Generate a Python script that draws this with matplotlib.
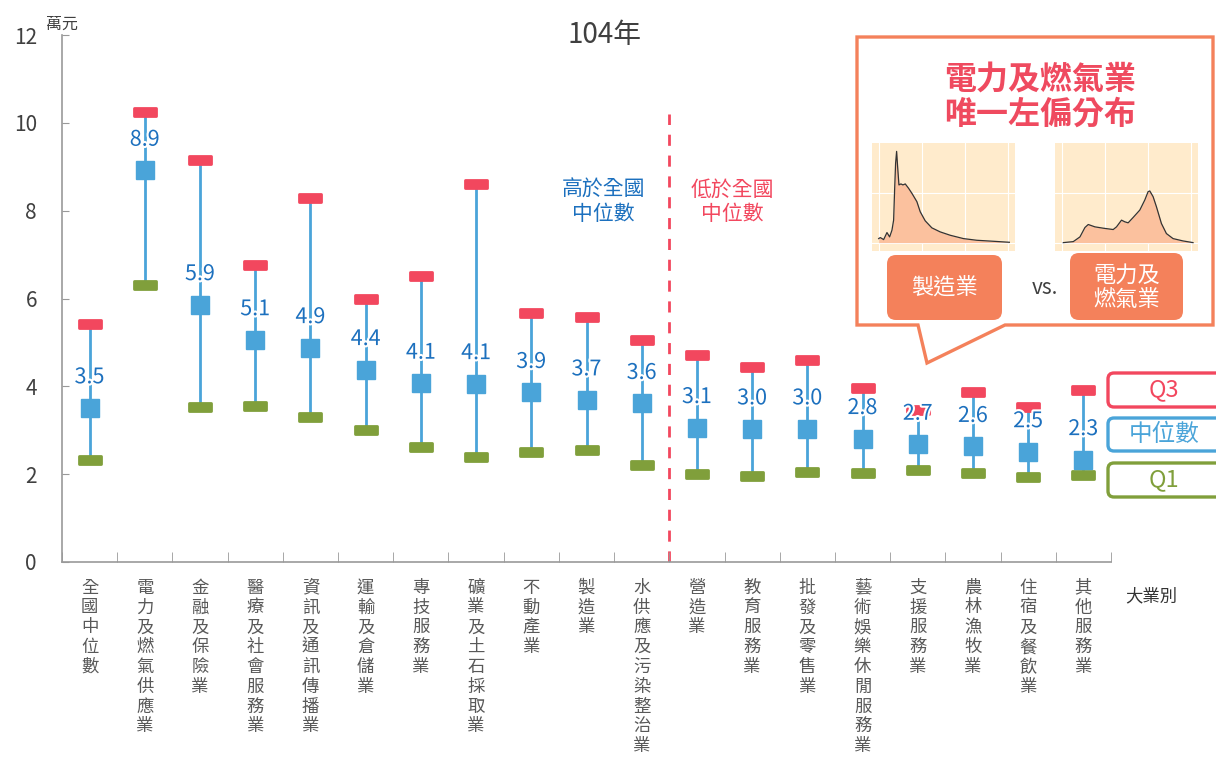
import numpy as np
import matplotlib
matplotlib.use("Agg")
import matplotlib.pyplot as plt
from matplotlib.path import Path
from matplotlib.patches import Polygon, FancyBboxPatch
import matplotlib.patheffects as pe

plt.rcParams['font.family'] = ['Noto Sans CJK TC', 'DejaVu Sans']

# 104年 各大業別 月薪 (萬元)
industries = ["全國中位數", "電力及燃氣供應業", "金融及保險業", "醫療及社會服務業",
              "資訊及通訊傳播業", "運輸及倉儲業", "專技服務業", "礦業及土石採取業",
              "不動產業", "製造業", "水供應及污染整治業", "營造業", "教育服務業",
              "批發及零售業", "藝術娛樂休閒服務業", "支援服務業", "農林漁牧業",
              "住宿及餐飲業", "其他服務業"]
median = [3.51, 8.92, 5.86, 5.06, 4.88, 4.38, 4.07, 4.06, 3.86, 3.69, 3.61,
          3.06, 3.03, 3.03, 2.81, 2.68, 2.63, 2.51, 2.33]
q3 = [5.43, 10.24, 9.16, 6.76, 8.29, 5.99, 6.51, 8.61, 5.68, 5.59, 5.06,
      4.72, 4.44, 4.61, 3.97, 3.47, 3.86, 3.53, 3.92]
q1 = [2.32, 6.30, 3.53, 3.56, 3.31, 3.01, 2.61, 2.39, 2.50, 2.55, 2.21,
      2.01, 1.96, 2.05, 2.02, 2.10, 2.02, 1.93, 1.97]
split_at = 10.5  # between 水供應 and 營造業

# little density sketches in the callout
mfg_x = [85, 90, 100, 110, 118, 125, 130, 133, 136, 139, 142, 146, 152, 158, 165,
         175, 185, 200, 210, 225, 245, 270, 300, 340, 380, 430, 478]
mfg_y = [12, 15, 9, 30, 17, 37, 67, 157, 237, 272, 227, 172, 175, 172, 175,
         162, 147, 122, 92, 65, 44, 32, 22, 12, 7, 4, 1]
elec_x = [640, 670, 690, 705, 715, 735, 760, 790, 800, 815, 825, 835, 850, 870,
          885, 895, 900, 910, 920, 935, 950, 970, 1000, 1030]
elec_y = [0, 3, 17, 45, 54, 47, 43, 39, 47, 67, 62, 59, 75, 97,
          127, 152, 154, 137, 107, 57, 27, 12, 5, 0]

RED = '#F2475E'
GREEN = '#809F3B'
BLUE = '#4AA4D9'
LBLUE = '#1C70BE'
ORANGE = '#F4815B'
W, H = 1216, 758

fig = plt.figure(figsize=(W / 100, H / 100), dpi=100)
ax = fig.add_axes([62 / W, 196 / H, 1049 / W, 527 / H])

x = np.arange(len(industries))
cap = Path([(-1, -0.39), (1, -0.39), (1, 0.39), (-1, 0.39), (-1, -0.39)],
           [Path.MOVETO, Path.LINETO, Path.LINETO, Path.LINETO, Path.CLOSEPOLY])

ax.vlines(x, q1, q3, color=BLUE, lw=2, zorder=2)
ax.plot(x, q3, ls='none', marker=cap, ms=16, mfc=RED, mec=RED, mew=2,
        zorder=3)
ax.plot(x, q1, ls='none', marker=cap, ms=16, mfc=GREEN, mec=GREEN, mew=2,
        zorder=3)
ax.plot(x, median, ls='none', marker='s', ms=13, mfc=BLUE, mec=BLUE, zorder=4)
for xi, m in zip(x, median):
    ax.annotate(f"{m:.1f}", (xi, m), xytext=(0, 22), textcoords='offset points',
                ha='center', va='center', fontsize=15.5, color=LBLUE, zorder=5,
                path_effects=[pe.withStroke(linewidth=3, foreground='white')])

ax.axvline(split_at, ymin=0, ymax=10.2 / 12, color=RED, lw=2, dashes=(4, 3.5), zorder=1)
ax.text(split_at - 1.2, 8.2, "高於全國\n中位數", color=LBLUE, fontsize=15,
        ha='center', va='center', linespacing=1.15, fontweight='medium')
ax.text(split_at + 1.15, 8.2, "低於全國\n中位數", color=RED, fontsize=15,
        ha='center', va='center', linespacing=1.15, fontweight='medium')

ax.set_xlim(-0.5, len(industries) - 0.5)
ax.set_ylim(0, 12)
ax.set_yticks(np.arange(0, 13, 2))
ax.set_xticks(x)
ax.set_xticklabels(["\n".join(s) for s in industries], fontsize=12.5, color='#595959',
                   linespacing=1.13, va='top')
ax.set_xticks(np.arange(-0.5, len(industries), 1), minor=True)
ax.tick_params(axis='x', which='major', length=0, pad=12)
ax.tick_params(axis='x', which='minor', direction='in', length=7, color='#999999')
ax.tick_params(axis='y', direction='in', length=5, color='#999999', labelsize=15,
               labelcolor='#404040', pad=18)
for s in ['top', 'right']:
    ax.spines[s].set_visible(False)
for s in ['left', 'bottom']:
    ax.spines[s].set_color('#999999')
    ax.spines[s].set_linewidth(1.2)

# overlay in pixel coordinates (origin top-left)
ov = fig.add_axes([0, 0, 1, 1])
ov.set_xlim(0, W)
ov.set_ylim(H, 0)
ov.axis('off')
ov.set_zorder(2)

ov.text(604, 35, "104年", fontsize=20, color='#404040', ha='center', va='center')
ov.text(62, 24, "萬元", fontsize=11.5, color='#404040', ha='center', va='center')
ov.text(1151, 596, "大業別", fontsize=12.5, color='#333333', ha='center', va='center')

# callout
callout = [(857, 37), (1213, 37), (1213, 325), (1005, 325), (927, 363), (918, 325), (857, 325)]
ov.add_patch(Polygon(callout, closed=True, fc='white', ec=ORANGE, lw=2.4))
ov.text(1040, 97, "電力及燃氣業\n唯一左偏分布", color='#EF4A5F', fontsize=23,
        fontweight='bold', ha='center', va='center', linespacing=1.1)
for (x0, y0, x1, y1, txt) in [(887, 255, 1002, 320, "製造業"),
                              (1070, 253, 1183, 320, "電力及\n燃氣業")]:
    ov.add_patch(FancyBboxPatch((x0, y0), x1 - x0, y1 - y0,
                                boxstyle="round,pad=0,rounding_size=9",
                                fc=ORANGE, ec='none'))
    ov.text((x0 + x1) / 2, (y0 + y1) / 2 + 1, txt, color='white', fontsize=16,
            ha='center', va='center', linespacing=1.1)
ov.text(1045, 288, "vs.", color='#404040', fontsize=15, ha='center', va='center')

# legend boxes at right
for (y0, y1, txt, col) in [(373, 407, "Q3", RED), (418, 451, "中位數", BLUE),
                           (463, 497, "Q1", GREEN)]:
    ov.add_patch(FancyBboxPatch((1108, y0), 140, y1 - y0,
                                boxstyle="round,pad=0,rounding_size=6",
                                fc='white', ec=col, lw=2.4))
    ov.text(1164, (y0 + y1) / 2, txt, color=col, fontsize=17, ha='center', va='center')

# density sketches
for (px0, dx, dy, lim) in [(872, mfg_x, mfg_y, (65, 495)), (1055, elec_x, elec_y, (615, 1045))]:
    ia = fig.add_axes([px0 / W, 1 - 251 / H, 143 / W, 108 / H])
    ia.set_zorder(3)
    ia.set_facecolor('#FFEBCC')
    ia.fill_between(dx, 0, dy, color='#FBC19E', lw=0)
    ia.plot(dx, dy, color='#333333', lw=0.9)
    ia.set_xlim(*lim)
    ia.set_ylim(-25, 297)
    ia.set_xticks(np.linspace(lim[0] + 20, lim[1] - 20, 4))
    ia.set_yticks([0, 148])
    ia.grid(True, color='white', lw=0.8)
    ia.set_axisbelow(True)
    ia.tick_params(length=0, labelbottom=False, labelleft=False)
    for s in ia.spines.values():
        s.set_visible(False)

fig.savefig("out.png", dpi=100)
